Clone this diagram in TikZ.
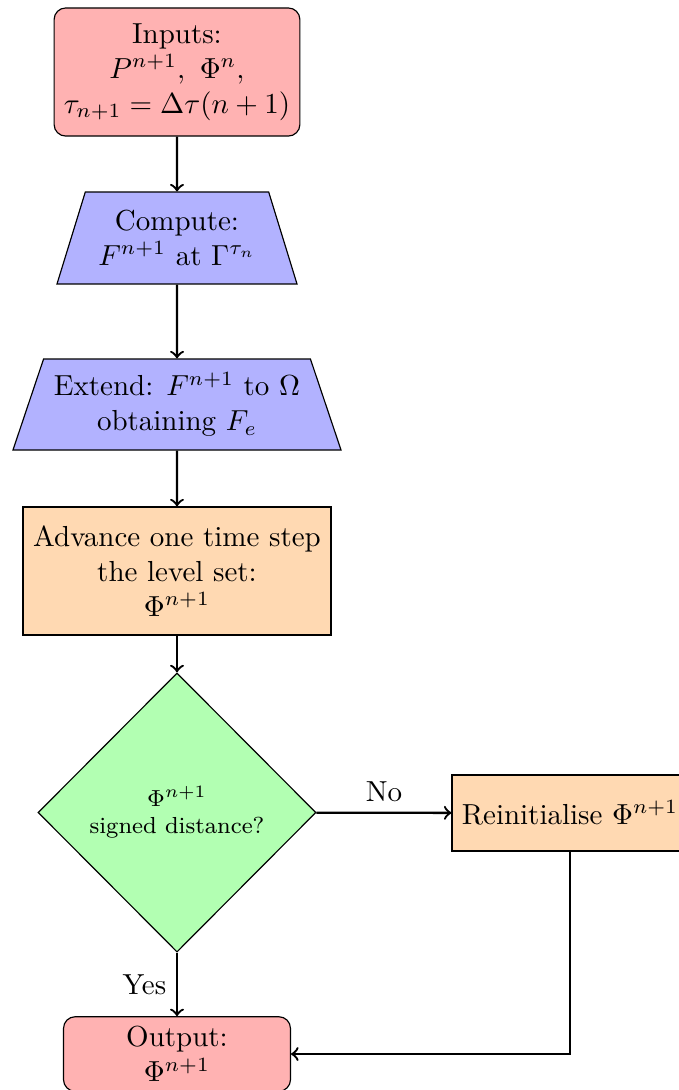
\documentclass[tikz,border=0pt]{standalone}
\usetikzlibrary{shapes.geometric}
\begin{document}
\begin{tikzpicture}[x=0.345pt,y=-0.345pt,
  base/.style={draw=black, align=center, inner sep=0.333em},
  startstop/.style={base, rectangle, rounded corners=4pt, fill=red!30},
  io/.style={base, trapezium, trapezium left angle=70, trapezium right angle=70,
    trapezium stretches=true, fill=blue!30},
  process/.style={base, rectangle, fill=orange!30},
  decision/.style={base, diamond, fill=green!30, inner sep=0pt, font=\footnotesize},
  arrow/.style={thick,->}]
\useasboundingbox (0,0) rectangle (678,1090);

% main column of the flowchart
\node[startstop, minimum width=84.8pt, minimum height=44.2pt] (in) at (177,72)
  {Inputs:\\ $P^{n+1},\ \Phi^{n},$\\ $\tau_{n+1}=\Delta\tau(n+1)$};
\node[io, minimum width=83.1pt, minimum height=31.7pt] (comp) at (177,238)
  {Compute:\\ $F^{n+1}$ at $\Gamma^{\tau_n}$};
\node[io, minimum width=113.2pt, minimum height=31.4pt] (ext) at (177,404.5)
  {Extend: $F^{n+1}$ to $\Omega$\\ obtaining $F_e$};
\node[process, minimum width=106.3pt, minimum height=44.2pt] (adv) at (177,571)
  {Advance one time step\\ the level set:\\ $\Phi^{n+1}$};
\node[decision, minimum width=95.9pt, minimum height=96.3pt] (dec) at (177,812.5)
  {$\Phi^{n+1}$\\ signed distance?};
\node[process, minimum width=81.4pt, minimum height=26.2pt] (reinit) at (570,813)
  {Reinitialise $\Phi^{n+1}$};
\node[startstop, minimum width=78.3pt, minimum height=25.2pt] (out) at (177,1054)
  {Output:\\ $\Phi^{n+1}$};

% connectors
\draw[arrow] (in) -- (comp);
\draw[arrow] (comp) -- (ext);
\draw[arrow] (ext) -- (adv);
\draw[arrow] (adv) -- (dec);
\draw[arrow] (dec) -- node[above] {No} (reinit);
\draw[arrow] (dec) -- node[left] {Yes} (out);
\draw[arrow] (reinit.south) |- (out.east);
\end{tikzpicture}
\end{document}
